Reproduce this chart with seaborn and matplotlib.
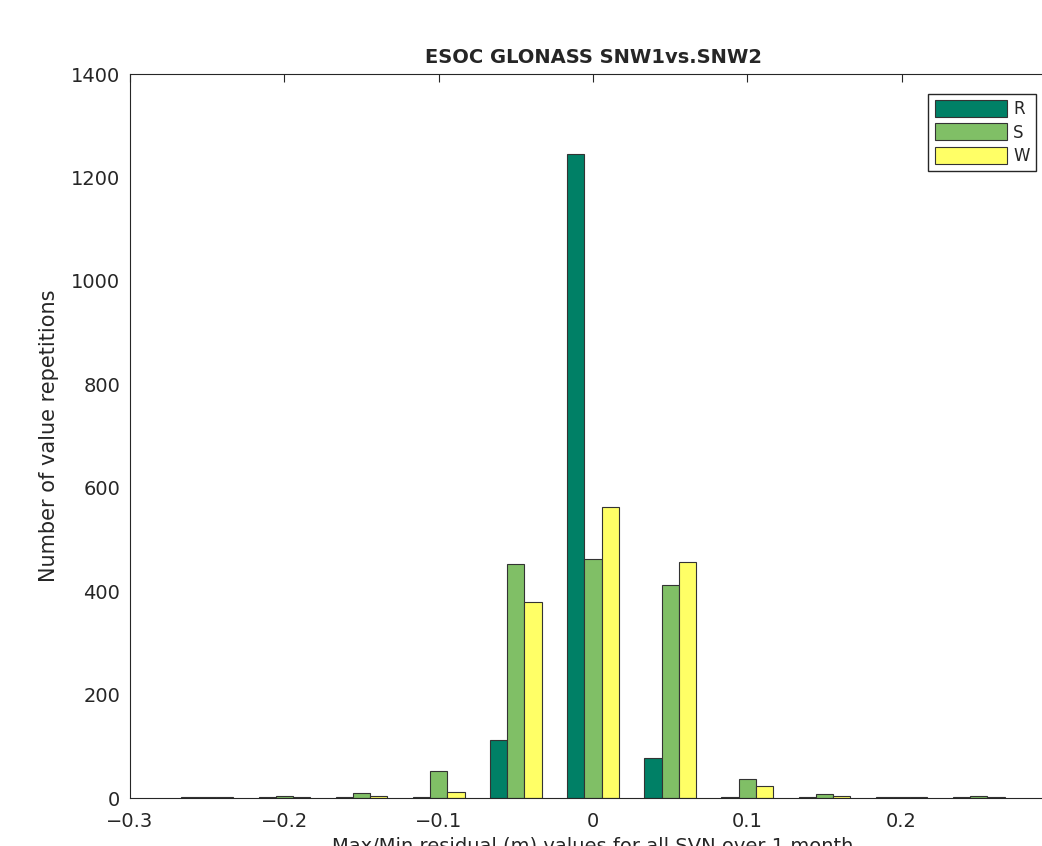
import pandas as pd
import matplotlib
matplotlib.use("Agg")
import matplotlib.pyplot as plt
import seaborn as sns

# bin centres (m) and counts per series
bins = [-0.25, -0.2, -0.15, -0.1, -0.05, 0.0, 0.05, 0.1, 0.15, 0.2, 0.25]
r_counts = [2, 2, 2, 2, 113, 1246, 78, 2, 2, 2, 2]
s_counts = [2, 3, 10, 53, 453, 463, 412, 37, 8, 2, 3]
w_counts = [2, 2, 3, 11, 380, 563, 457, 24, 3, 2, 2]
series = ["R", "S", "W"]
colors = ["#008066", "#80bf66", "#ffff66"]

df = pd.DataFrame({
    "bin": bins * 3,
    "count": r_counts + s_counts + w_counts,
    "series": [s for s in series for _ in bins],
})

sns.set_style("white")
plt.rcParams["font.family"] = ["DejaVu Sans"]

fig = plt.figure(figsize=(10.42, 8.46), dpi=100)
ax = fig.add_axes([0.1248, 0.0567, 0.8886, 0.8558])

sns.barplot(data=df, x="bin", y="count", hue="series", hue_order=series,
            palette=colors, native_scale=True, width=0.67, gap=0,
            edgecolor="#333333", linewidth=0.8, saturation=1, ax=ax)

ax.set_xlim(-0.3, 0.3)
ax.set_ylim(0, 1400)
ax.set_xticks([-0.3, -0.2, -0.1, 0, 0.1, 0.2, 0.3])
ax.set_xticklabels(["\u22120.3", "\u22120.2", "\u22120.1", "0", "0.1", "0.2", "0.3"])
ax.set_yticks(range(0, 1401, 200))
ax.tick_params(direction="in", top=True, right=True, length=6, width=0.8,
               labelsize=14, colors="#262626")
ax.tick_params(axis="x", pad=10)
ax.tick_params(axis="y", pad=7)
for sp in ax.spines.values():
    sp.set_color("#262626")
    sp.set_linewidth(0.8)

ax.set_title("ESOC GLONASS SNW1vs.SNW2", fontsize=14, fontweight="bold", pad=8)
ax.set_xlabel("Max/Min residual (m) values for all SVN over 1 month",
              fontsize=14, color="#262626", labelpad=4)
ax.set_ylabel("Number of value repetitions", fontsize=15, color="#262626", labelpad=9)

handles, labels = ax.get_legend_handles_labels()
ax.legend(handles, labels, loc="upper left", bbox_to_anchor=(0.862, 0.973),
          frameon=True, fancybox=False, edgecolor="#262626", framealpha=1,
          fontsize=12, handlelength=4.3, handleheight=1.2, handletextpad=0.4,
          labelspacing=0.3, borderpad=0.4, borderaxespad=0)

plt.savefig("out.png", dpi=100)
plt.close()
